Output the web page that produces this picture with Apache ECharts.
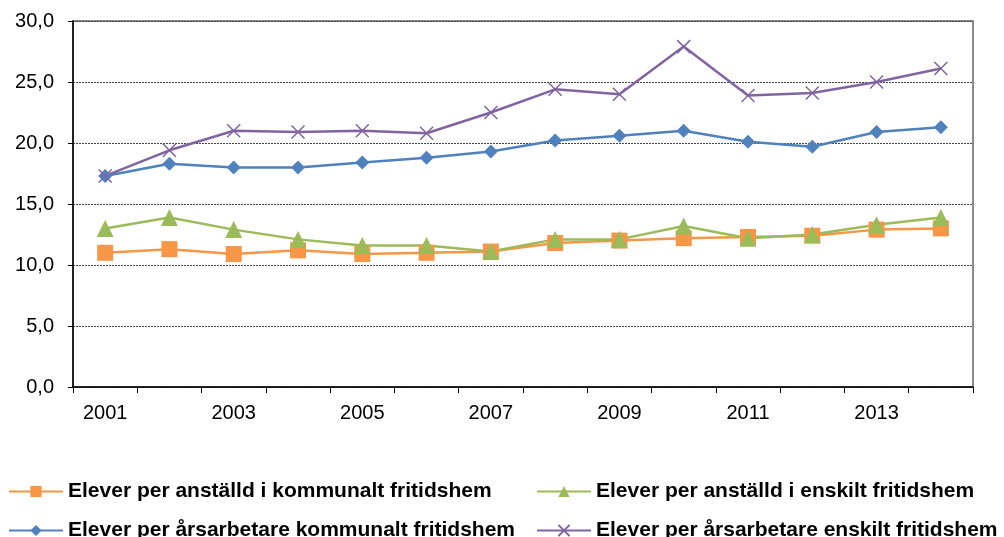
<!DOCTYPE html>
<html>
<head>
<meta charset="utf-8">
<script src="https://cdn.jsdelivr.net/npm/echarts@6/dist/echarts.min.js"></script>
<style>
  html, body { margin: 0; padding: 0; background: #fff; }
  #chart { width: 1004px; height: 537px; }
</style>
</head>
<body>
<div id="chart"></div>
<script>
// data
var years = ['2001', '2002', '2003', '2004', '2005', '2006', '2007', '2008', '2009', '2010', '2011', '2012', '2013', '2014']
var names = [
    'Elever per anställd i kommunalt fritidshem',
    'Elever per anställd i enskilt fritidshem',
    'Elever per årsarbetare kommunalt fritidshem',
    'Elever per årsarbetare enskilt fritidshem'
]
var anstalldKommunal = [11.0, 11.3, 10.9, 11.2, 10.9, 11.0, 11.1, 11.8, 12.0, 12.2, 12.3, 12.4, 12.9, 13.0]
var anstalldEnskild = [13.0, 13.9, 12.9, 12.1, 11.6, 11.6, 11.1, 12.1, 12.1, 13.2, 12.2, 12.5, 13.3, 13.9]
var arsarbKommunal = [17.3, 18.3, 18.0, 18.0, 18.4, 18.8, 19.3, 20.2, 20.6, 21.0, 20.1, 19.7, 20.9, 21.3]
var arsarbEnskild = [17.3, 19.4, 21.0, 20.9, 21.0, 20.8, 22.5, 24.4, 24.0, 27.9, 23.9, 24.1, 25.0, 26.1]

var orange = '#F79646'
var green = '#9BBB59'
var blue = '#4F81BD'
var purple = '#8064A2'
var crossPath = 'path://M0,0L10,10M10,0L0,10'

var chart = echarts.init(document.getElementById('chart'))

function legendAt(name, left, top) {
    return {
        data: [name],
        left: left,
        top: top,
        itemWidth: 54,
        itemHeight: 14,
        itemGap: 4,
        textStyle: {
            fontFamily: 'Liberation Sans, Arial',
            fontWeight: 'bold',
            fontSize: 21,
            color: '#000'
        }
    }
}

var option = {
    animation: false,
    color: [orange, green, blue, purple],
    grid: {
        left: 73,
        right: 31,
        top: 21,
        bottom: 150,
        show: true,
        borderColor: '#8a8a8a',
        borderWidth: 2
    },
    legend: [
        legendAt(names[0], 3, 476),
        legendAt(names[1], 531, 476),
        legendAt(names[2], 3, 515),
        legendAt(names[3], 531, 515)
    ],
    xAxis: {
        type: 'category',
        data: years,
        boundaryGap: true,
        axisLine: { lineStyle: { color: '#000', width: 1.5 } },
        axisTick: { show: true, length: 6, interval: 0, lineStyle: { color: '#000' } },
        axisLabel: {
            interval: 1,
            color: '#000',
            fontFamily: 'Liberation Sans, Arial',
            fontSize: 20,
            margin: 16
        }
    },
    yAxis: {
        type: 'value',
        min: 0,
        max: 30,
        interval: 5,
        axisLine: { show: true, lineStyle: { color: '#000', width: 1.5 } },
        axisTick: { show: true, length: 5, lineStyle: { color: '#000' } },
        axisLabel: {
            color: '#000',
            fontFamily: 'Liberation Sans, Arial',
            fontSize: 20,
            margin: 19,
            formatter: function (v) { return v.toFixed(1).replace('.', ',') }
        },
        splitLine: { lineStyle: { color: '#444', type: [2, 1], width: 1 } }
    },
    series: [{
        name: names[0],
        type: 'line',
        data: anstalldKommunal,
        symbol: 'rect',
        symbolSize: 16,
        lineStyle: { width: 2.5, color: orange },
        itemStyle: { color: orange }
    }, {
        name: names[1],
        type: 'line',
        data: anstalldEnskild,
        symbol: 'triangle',
        symbolSize: 17,
        lineStyle: { width: 2.5, color: green },
        itemStyle: { color: green }
    }, {
        name: names[2],
        type: 'line',
        data: arsarbKommunal,
        symbol: 'diamond',
        symbolSize: 14,
        lineStyle: { width: 2.5, color: blue },
        itemStyle: { color: blue }
    }, {
        name: names[3],
        type: 'line',
        data: arsarbEnskild,
        symbol: crossPath,
        symbolSize: 13,
        lineStyle: { width: 2.5, color: purple },
        itemStyle: { color: purple, borderColor: purple, borderWidth: 1.5 }
    }]
}
chart.setOption(option)
</script>
</body>
</html>
